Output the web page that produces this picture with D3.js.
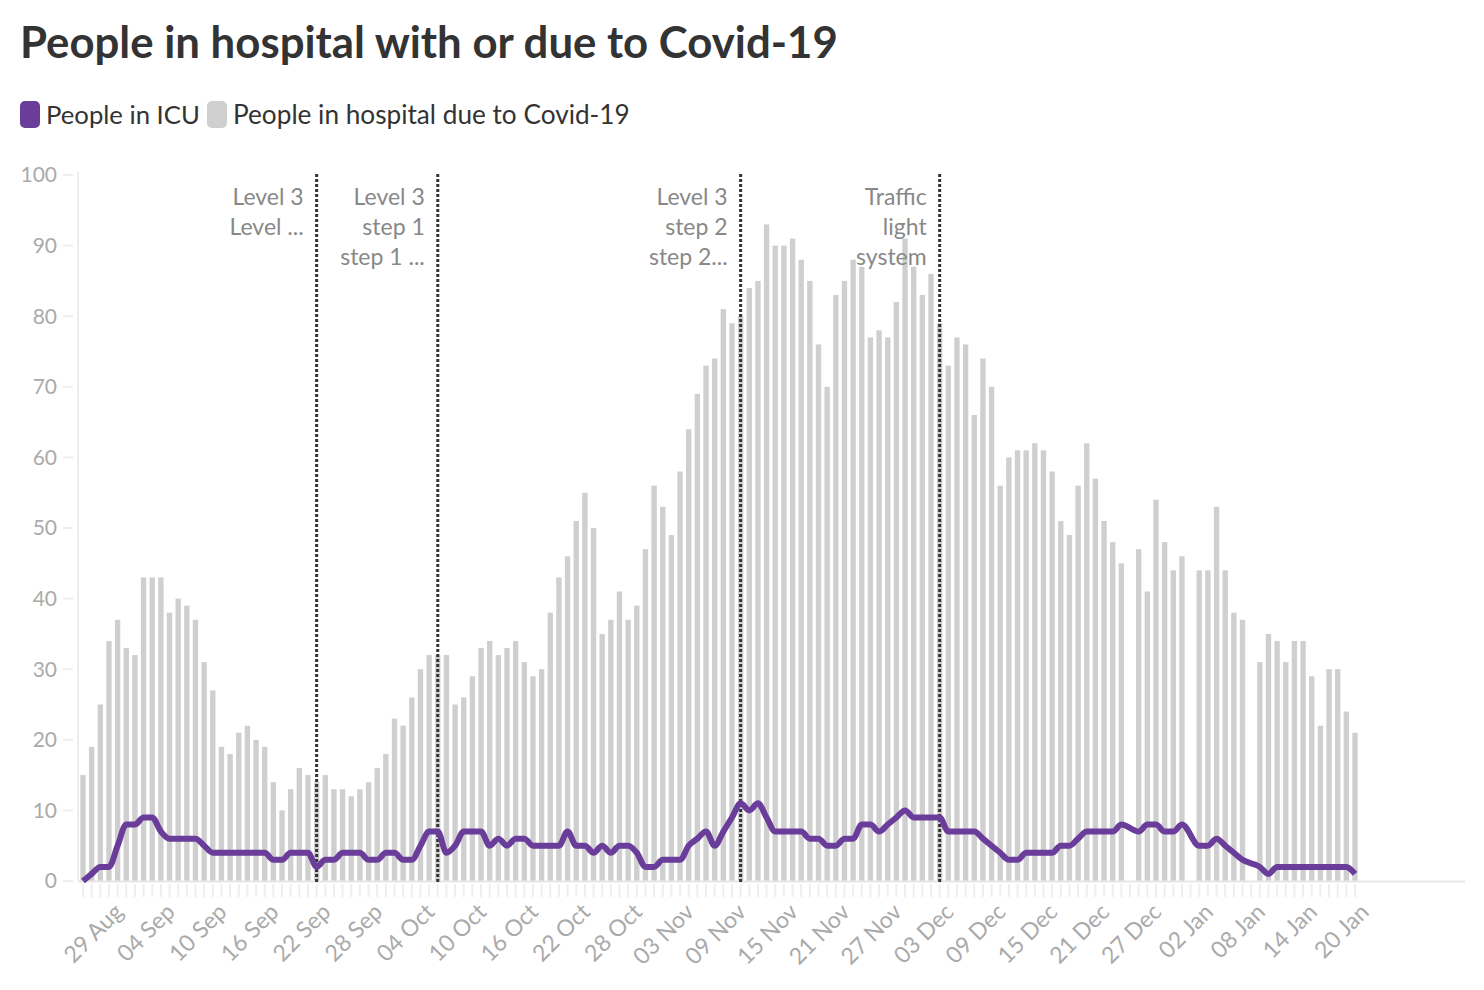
<!DOCTYPE html>
<html><head><meta charset="utf-8">
<script src="https://cdn.jsdelivr.net/npm/d3@7"></script>
<style>body{margin:0;background:#fff;} svg{display:block;font-family:Lato,"Open Sans",sans-serif;}</style>
</head><body><svg id="chart" width="1484" height="990"></svg>
<script>
// ---- data ----
const startDate = "2021-08-26";
const endDate = "2022-01-20";
const hospital = [15,19,25,34,37,33,32,43,43,43,38,40,39,37,31,27,19,18,21,22,20,19,14,10,13,16,15,
  14,
  15,13,13,12,13,14,16,18,23,22,26,30,32,
  32,
  32,25,26,29,33,34,32,33,34,31,29,30,38,43,46,51,55,50,
  35,37,41,37,39,47,56,53,49,58,64,69,73,74,81,79,
  80,
  84,85,93,90,90,91,88,85,76,70,83,85,88,
  87,77,78,77,82,91,87,83,86,
  79,
  73,77,76,66,74,70,56,60,61,61,62,61,58,51,49,56,62,57,51,48,45,
  null,
  47,41,54,48,44,46,
  null,
  44,44,53,44,38,37,
  null,
  31,35,34,31,34,34,29,22,30,30,24,21];
const icu = [0,1,2,2,5,8,8,9,9,7,
  6,6,6,6,5,4,4,4,4,4,
  4,4,3,3,4,4,4,2,3,3,
  4,4,4,3,3,4,4,3,3,5,
  7,7,4,5,7,7,7,5,6,5,
  6,6,5,5,5,5,7,5,5,4,
  5,4,5,5,4,2,2,3,3,3,
  5,6,7,5,7,9,11,10,11,9,
  7,7,7,7,6,6,5,5,6,6,
  8,8,7,8,9,10,9,9,9,9,
  7,7,7,7,6,5,4,3,3,4,
  4,4,4,5,5,6,7,7,7,7,
  8,null,7,8,8,7,7,8,null,5,
  5,6,5,4,3,null,2,1,2,2,
  2,2,2,2,2,2,2,1];
const tickDates = ["2021-08-29","2021-09-04","2021-09-10","2021-09-16","2021-09-22","2021-09-28","2021-10-04",
  "2021-10-10","2021-10-16","2021-10-22","2021-10-28","2021-11-03","2021-11-09","2021-11-15","2021-11-21",
  "2021-11-27","2021-12-03","2021-12-09","2021-12-15","2021-12-21","2021-12-27","2022-01-02","2022-01-08",
  "2022-01-14","2022-01-20"];
const yTicks = [0,10,20,30,40,50,60,70,80,90,100];
const annotationDates = ["2021-09-22","2021-10-06","2021-11-10","2021-12-03"];
const annotationTexts = [["Level 3","Level ..."],["Level 3","step 1","step 1 ..."],["Level 3","step 2","step 2..."],["Traffic","light","system"]];
const seriesNames = ["People in ICU","People in hospital due to Covid-19"];
const seriesColors = ["#6a3d9a","#cfcfcf"];

// ---- chart ----
const parse = d3.timeParse("%Y-%m-%d");
const fmt = d3.timeFormat("%d %b");
const dates = d3.timeDay.range(parse(startDate), d3.timeDay.offset(parse(endDate), 1));
const rows = dates.map((d,i)=>({date:d, hosp:hospital[i], icu:icu[i]}));

const svg = d3.select("#chart");
const x = d3.scaleTime().domain([parse(startDate), parse(endDate)]).range([83, 1355]);
const y = d3.scaleLinear().domain([0,100]).range([881,175]);
const step = x(dates[1]) - x(dates[0]);
const barW = step*0.62;

// title
const title = svg.append("text").attr("x",20).attr("y",58)
  .attr("font-size",40).attr("font-weight",700).attr("fill","#333")
  .text("People in hospital with or due to Covid-19");
const tw = title.node().getComputedTextLength();
title.attr("font-size", 40*818/tw);

// legend
const lg = svg.append("g");
let lx = 20;
seriesNames.forEach((n,i)=>{
  lg.append("rect").attr("x",lx).attr("y",101).attr("width",20).attr("height",27).attr("rx",5).attr("fill",seriesColors[i]);
  const t = lg.append("text").attr("x",lx+26).attr("y",124).attr("font-size",24).attr("fill","#333").text(n);
  const target = i===0 ? 154 : 397;
  const w = t.node().getComputedTextLength();
  t.attr("font-size", 24*target/w);
  lx = lx + 26 + target + 7;
});

// y axis
svg.append("line").attr("x1",78).attr("x2",78).attr("y1",172).attr("y2",881).attr("stroke","#eeeeee").attr("stroke-width",2);
const yg = svg.append("g");
yTicks.forEach(v=>{
  yg.append("line").attr("x1",63).attr("x2",73).attr("y1",y(v)).attr("y2",y(v)).attr("stroke","#eeeeee").attr("stroke-width",2);
  yg.append("text").attr("x",57).attr("y",y(v)).attr("dy","0.35em").attr("text-anchor","end")
    .attr("font-size",21).attr("fill","#aaaaaa").text(v);
});

// daily ticks
svg.append("g").selectAll("line").data(dates).join("line")
  .attr("x1",d=>x(d)).attr("x2",d=>x(d)).attr("y1",884).attr("y2",897)
  .attr("stroke","#eeeeee").attr("stroke-width",2);

// bars
svg.append("g").selectAll("rect").data(rows.filter(r=>r.hosp!=null)).join("rect")
  .attr("x",d=>x(d.date)-barW/2).attr("width",barW)
  .attr("y",d=>y(d.hosp)).attr("height",d=>y(0)-y(d.hosp))
  .attr("fill",seriesColors[1]);

// baseline
svg.append("line").attr("x1",78).attr("x2",1465).attr("y1",881.5).attr("y2",881.5).attr("stroke","#e8e8e8").attr("stroke-width",2);

// x labels
svg.append("g").selectAll("text").data(tickDates.map(parse)).join("text")
  .attr("transform",d=>`translate(${x(d)+4},${902}) rotate(-45)`)
  .attr("text-anchor","end").attr("dy","0.7em")
  .attr("font-size",23).attr("fill","#aaaaaa").text(d=>fmt(d));

// annotations
annotationDates.forEach((ds,i)=>{
  const ax = x(parse(ds));
  svg.append("line").attr("x1",ax).attr("x2",ax).attr("y1",174).attr("y2",882)
    .attr("stroke","#333").attr("stroke-width",3).attr("stroke-dasharray","3,2");
  annotationTexts[i].forEach((t,j)=>{
    svg.append("text").attr("x",ax-13).attr("y",205+j*30).attr("text-anchor","end")
      .attr("font-size",23).attr("fill","#888888").text(t);
  });
});

// ICU line
const line = d3.line().x(d=>x(d.date)).y(d=>y(d.icu)).curve(d3.curveMonotoneX);
svg.append("path").datum(rows.filter(r=>r.icu!=null)).attr("d",line)
  .attr("fill","none").attr("stroke",seriesColors[0]).attr("stroke-width",6)
  .attr("stroke-linejoin","round");
</script></body></html>
